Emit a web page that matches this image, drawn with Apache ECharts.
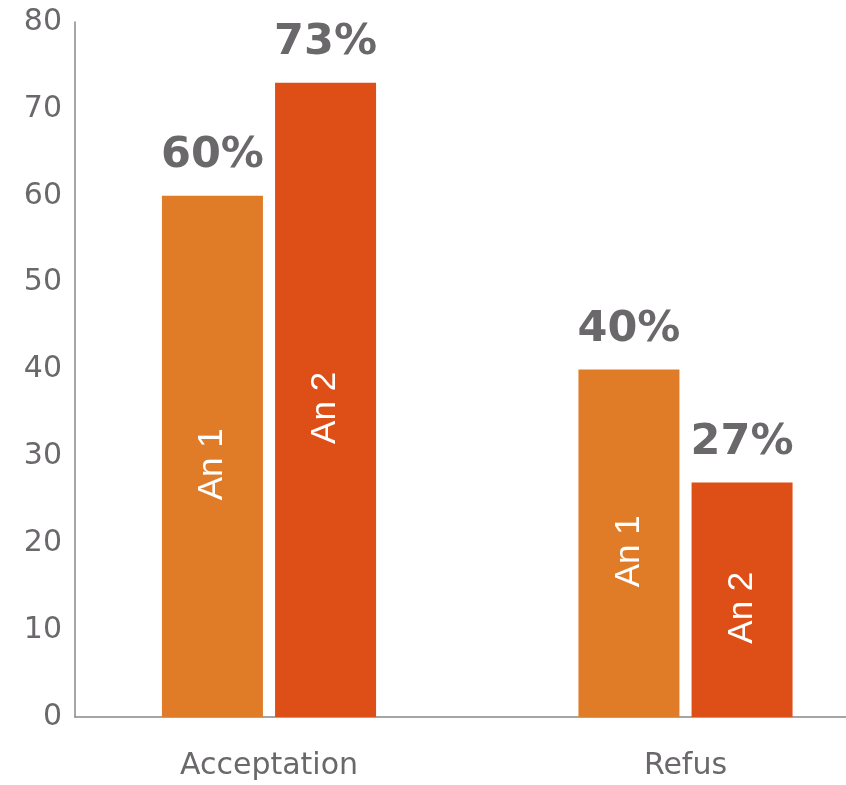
<!DOCTYPE html>
<html>
<head>
<meta charset="utf-8">
<script src="https://cdn.jsdelivr.net/npm/echarts@6/dist/echarts.min.js"></script>
<style>
html,body{margin:0;padding:0;background:#fff;}
#chart{width:846px;height:785px;}
</style>
</head>
<body>
<div id="chart"></div>
<script>
const categories = ['Acceptation', 'Refus'];
const seriesNames = ['An 1', 'An 2'];
const an1Values = [60, 40];
const an2Values = [73, 27];
const yTicks = [0, 10, 20, 30, 40, 50, 60, 70, 80];

const colors = ['#E07C28', '#DE4F18'];
const textGray = '#6B686C';

function barSeries(name, data, color, stackId) {
  return {
    name: name,
    type: 'bar',
    stack: stackId,
    xAxisIndex: 0,
    yAxisIndex: 0,
    data: data,
    barWidth: 101,
    barGap: '12%',
    clip: false,
    itemStyle: { color: color },
    label: {
      show: true,
      position: 'inside',
      rotate: 90,
      offset: [-8, 0],
      formatter: name,
      color: '#ffffff',
      fontFamily: 'Liberation Sans',
      fontSize: 35
    },
    emphasis: { disabled: true }
  };
}

function valueLabelSeries(values, stackId) {
  return {
    type: 'bar',
    stack: stackId,
    xAxisIndex: 0,
    yAxisIndex: 0,
    data: values.map(() => 0),
    barWidth: 101,
    barGap: '12%',
    clip: false,
    itemStyle: { color: 'transparent' },
    label: {
      show: true,
      position: 'top',
      distance: 18,
      formatter: p => values[p.dataIndex] + '%',
      color: textGray,
      fontFamily: 'DejaVu Sans',
      fontWeight: 'bold',
      fontSize: 43
    },
    silent: true
  };
}

const chart = echarts.init(document.getElementById('chart'), null, { renderer: 'canvas' });
chart.setOption({
  animation: false,
  grid: [
    { left: 269, top: 22, height: 695, width: 416.5 },
    { left: 75, top: 22, height: 695, right: 0 }
  ],
  xAxis: [
    {
      type: 'category',
      gridIndex: 0,
      data: categories,
      boundaryGap: false,
      axisLine: { show: false },
      axisTick: { show: false },
      splitLine: { show: false },
      axisLabel: {
        color: textGray,
        fontFamily: 'DejaVu Sans',
        fontSize: 30,
        margin: 34
      }
    },
    {
      type: 'value',
      gridIndex: 1,
      min: 0, max: 1,
      axisLine: { show: true, lineStyle: { color: '#888888', width: 1.5 } },
      axisTick: { show: false },
      axisLabel: { show: false },
      splitLine: { show: false }
    }
  ],
  yAxis: [
    {
      type: 'value',
      gridIndex: 0,
      min: yTicks[0],
      max: yTicks[yTicks.length - 1],
      interval: 10,
      show: false
    },
    {
      type: 'value',
      gridIndex: 1,
      min: yTicks[0],
      max: yTicks[yTicks.length - 1],
      interval: 10,
      axisLine: { show: true, lineStyle: { color: '#888888', width: 1.5 } },
      axisTick: { show: false },
      splitLine: { show: false },
      axisLabel: {
        color: textGray,
        fontFamily: 'DejaVu Sans',
        fontSize: 30,
        margin: 13
      }
    }
  ],
  series: [
    barSeries(seriesNames[0], an1Values, colors[0], 's1'),
    valueLabelSeries(an1Values, 's1'),
    barSeries(seriesNames[1], an2Values, colors[1], 's2'),
    valueLabelSeries(an2Values, 's2')
  ]
});
</script>
</body>
</html>
